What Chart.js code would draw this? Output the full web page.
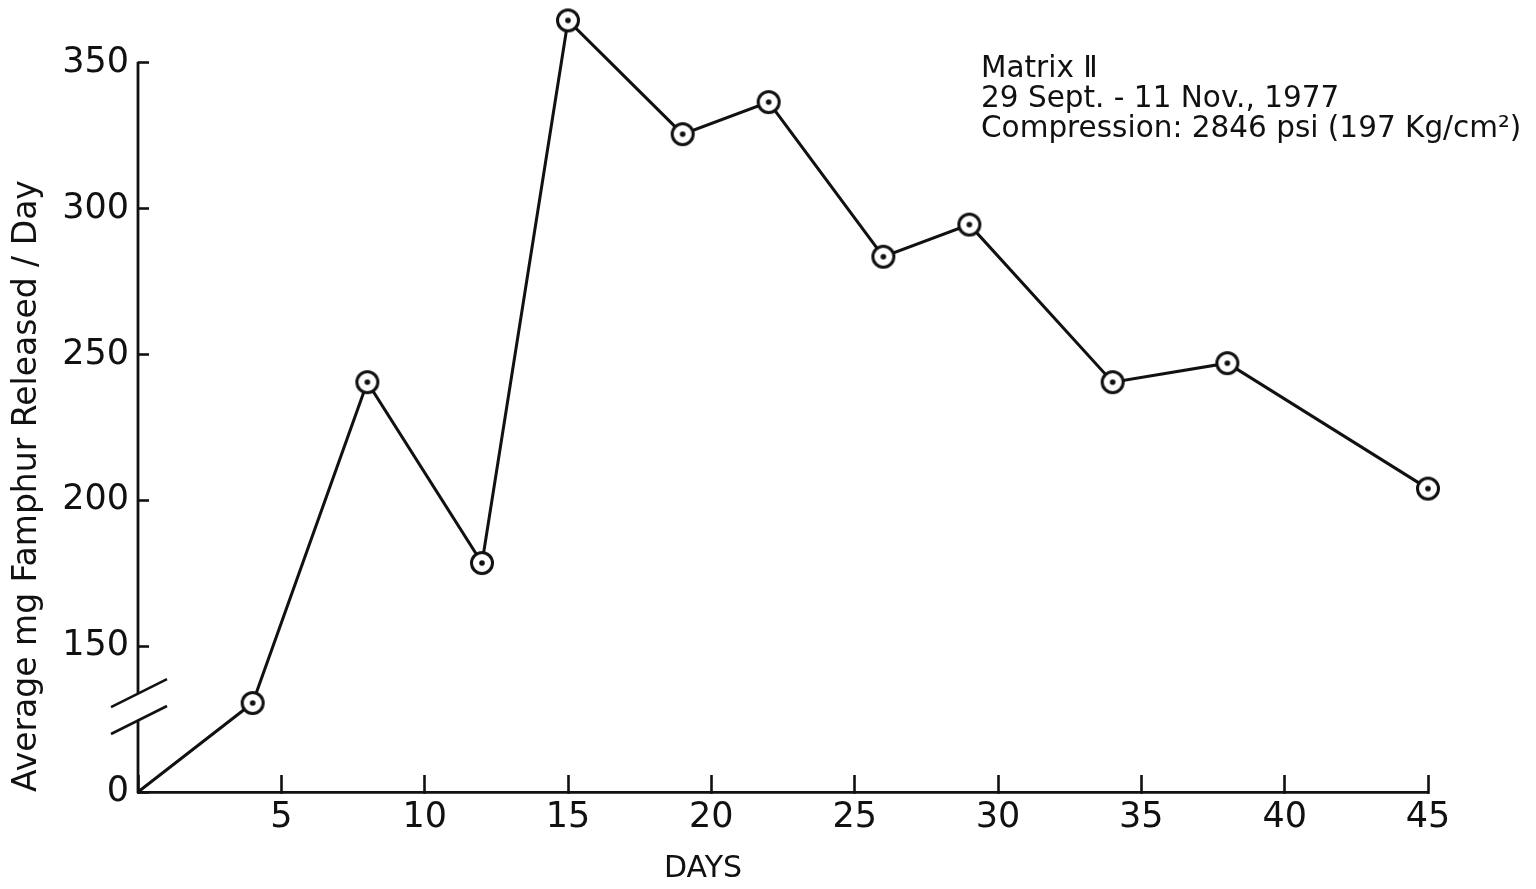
<!DOCTYPE html>
<html>
<head>
<meta charset="utf-8">
<script src="https://cdn.jsdelivr.net/npm/chart.js@4.4.1/dist/chart.umd.min.js"></script>
<style>
  html, body { margin: 0; padding: 0; background: #fff; }
  canvas { display: block; }
</style>
</head>
<body>
<canvas id="myChart" width="1536" height="889"></canvas>
<script>
'use strict'

// DATA
var days = [0, 4, 8, 12, 15, 19, 22, 26, 29, 34, 38, 45];
var famphur = [0, 130.5, 240.5, 178.5, 364.5, 325.5, 336.5, 283.5, 294.5, 240.5, 247, 204];
var xTicks = [0, 5, 10, 15, 20, 25, 30, 35, 40, 45];
var xTickLabels = ['', '5', '10', '15', '20', '25', '30', '35', '40', '45'];
// the axis is broken: true zero is drawn where 100 would be
var yTicks = [100, 150, 200, 250, 300, 350];
var yTickLabels = ['0', '150', '200', '250', '300', '350'];
var notes = ['Matrix \u2161', '29 Sept. - 11 Nov., 1977', 'Compression: 2846 psi (197 Kg/cm\u00b2)'];
var xTitle = 'DAYS';
var yTitle = 'Average mg Famphur Released / Day';

var AXIS_FLOOR = 100;
var AXIS_TOP = 350;
var INK = '#111';
var FONT = '"DejaVu Sans", sans-serif';

// linear scale that puts everything under the break on the axis floor
class BrokenLinearScale extends Chart.LinearScale {
	getPixelForValue(value) {
		if (value !== null && value < this.min) value = this.min;
		return super.getPixelForValue(value);
	}
}
BrokenLinearScale.id = 'brokenLinear';
BrokenLinearScale.defaults = {};
Chart.register(BrokenLinearScale);

// circle with a dot in the middle
function makeMarker() {
	var c = document.createElement('canvas');
	c.width = 28; c.height = 28;
	var g = c.getContext('2d');
	g.beginPath();
	g.arc(14, 14, 10.5, 0, Math.PI * 2);
	g.fillStyle = '#fff';
	g.fill();
	g.lineWidth = 3;
	g.strokeStyle = INK;
	g.stroke();
	g.beginPath();
	g.arc(14, 14, 2.8, 0, Math.PI * 2);
	g.fillStyle = INK;
	g.fill();
	return c;
}
var marker = makeMarker();

// Y AXIS LINE WITH BREAK + TEXT
var brokenAxis = {
	id: 'brokenAxis',
	beforeDatasetsDraw: function(chart) {
		var ctx = chart.ctx;
		var y = chart.scales.y;
		var x0 = chart.chartArea.left;
		var yTop = y.getPixelForValue(AXIS_TOP);
		var yBot = y.getPixelForValue(AXIS_FLOOR);
		var y150 = y.getPixelForValue(150);
		var gapA = y150 + 0.325 * (yBot - y150);
		var gapB = y150 + 0.51 * (yBot - y150);

		ctx.save();
		ctx.strokeStyle = INK;
		ctx.lineWidth = 2.8;
		ctx.beginPath();
		ctx.moveTo(x0, yTop - 1);
		ctx.lineTo(x0, gapA);
		ctx.moveTo(x0, gapB);
		ctx.lineTo(x0, yBot + 1);
		ctx.stroke();

		ctx.lineWidth = 2.6;
		[gapA, gapB].forEach(function(yc) {
			ctx.beginPath();
			ctx.moveTo(x0 - 27, yc + 27 * 0.5);
			ctx.lineTo(x0 + 29, yc - 29 * 0.5);
			ctx.stroke();
		});
		ctx.restore();
	},
	afterDraw: function(chart) {
		var ctx = chart.ctx;
		ctx.save();
		ctx.fillStyle = INK;
		ctx.font = '29.5px ' + FONT;
		ctx.textAlign = 'left';
		ctx.textBaseline = 'alphabetic';
		notes.forEach(function(t, i) {
			ctx.fillText(t, 981, 77 + i * 30);
		});
		ctx.font = '30px ' + FONT;
		ctx.textAlign = 'center';
		ctx.textBaseline = 'middle';
		ctx.fillText(xTitle, 703, 869);
		ctx.restore();
	}
};

var ctx = document.getElementById('myChart').getContext('2d');
var chart = new Chart(ctx, {
	type: 'line',
	data: {
		datasets: [{
			data: days.map(function(d, i) { return { x: d, y: famphur[i] }; }),
			borderColor: INK,
			borderWidth: 3,
			pointStyle: function(c) { return c.dataIndex === 0 ? false : marker; },
			pointRadius: 11,
			tension: 0,
			fill: false,
			clip: false
		}]
	},
	options: {
		responsive: false,
		animation: false,
		devicePixelRatio: 1,
		layout: { padding: { left: 0, top: 3, right: 108, bottom: 0 } },
		plugins: {
			legend: { display: false },
			tooltip: { enabled: false }
		},
		scales: {
			x: {
				type: 'linear',
				min: 0,
				max: 45,
				afterBuildTicks: function(s) { s.ticks = xTicks.map(function(v) { return { value: v }; }); },
				afterFit: function(s) { s.height = 97; },
				border: { display: true, color: INK, width: 2.8 },
				grid: { drawOnChartArea: false, drawTicks: true, tickLength: -17, tickWidth: 2.6, tickColor: INK },
				ticks: {
					autoSkip: false,
					maxRotation: 0,
					padding: 22,
					color: INK,
					font: { family: FONT, size: 35 },
					callback: function(v, i) { return xTickLabels[i]; }
				}
			},
			y: {
				type: 'brokenLinear',
				min: AXIS_FLOOR,
				max: 366.7,
				afterBuildTicks: function(s) { s.ticks = yTicks.map(function(v) { return { value: v }; }); },
				afterFit: function(s) { s.width = 138; s.paddingTop = 0; s.paddingBottom = 0; },
				border: { display: false },
				grid: { drawOnChartArea: false, drawTicks: true, tickLength: -11, tickWidth: 2.6, tickColor: INK },
				ticks: {
					autoSkip: false,
					padding: 20,
					color: INK,
					font: { family: FONT, size: 35 },
					callback: function(v, i) { return yTickLabels[i]; }
				},
				title: {
					display: true,
					text: yTitle,
					align: 'start',
					color: INK,
					font: { family: FONT, size: 33 },
					padding: { top: 8, bottom: 0 }
				}
			}
		}
	},
	plugins: [brokenAxis]
});
</script>
</body>
</html>
